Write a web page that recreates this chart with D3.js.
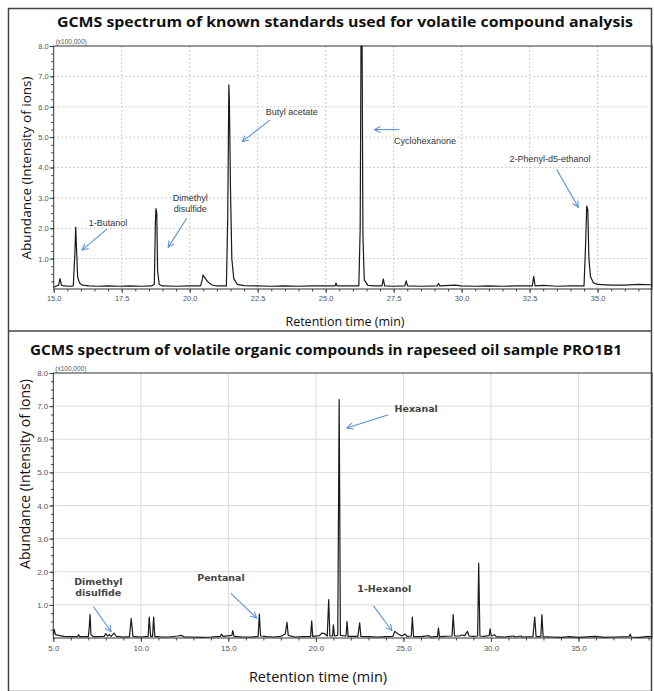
<!DOCTYPE html>
<html>
<head>
<meta charset="utf-8">
<script src="https://cdn.jsdelivr.net/npm/d3@7"></script>
<style>
  body { margin: 0; background: #fff; }
  svg { display: block; }
  .tick text { fill: #555; }
</style>
</head>
<body>
<script>
// chromatogram traces, abundance in units of 100,000 ions
let stdTime = [15.00,15.10,15.18,15.23,15.29,15.40,15.60,15.72,15.78,15.81,15.84,15.88,15.95,16.05,16.30,16.60,17.00,17.40,17.80,18.20,18.60,18.70,18.74,18.76,18.79,18.82,18.88,19.00,19.50,20.00,20.40,20.46,20.49,20.55,20.65,20.80,21.00,21.35,21.40,21.44,21.46,21.50,21.55,21.62,21.75,22.00,22.50,23.00,23.50,24.00,24.50,25.00,25.35,25.38,25.42,26.00,26.22,26.27,26.30,26.34,26.37,26.42,26.55,26.80,27.07,27.12,27.17,27.50,27.91,27.96,28.01,28.50,29.10,29.15,29.20,29.75,30.00,30.50,31.00,31.50,32.00,32.60,32.65,32.70,33.00,33.50,34.00,34.50,34.56,34.60,34.64,34.68,34.74,34.85,35.00,35.50,36.00,36.50,37.00];
let stdAbund = [0.06,0.10,0.12,0.34,0.12,0.10,0.09,0.10,1.20,2.04,1.30,0.40,0.20,0.13,0.10,0.09,0.10,0.09,0.10,0.09,0.10,0.15,2.20,2.65,2.50,0.60,0.15,0.10,0.09,0.10,0.10,0.30,0.46,0.38,0.25,0.14,0.10,0.10,2.40,6.72,6.20,3.30,1.00,0.35,0.15,0.11,0.10,0.09,0.10,0.09,0.10,0.10,0.10,0.20,0.10,0.10,0.10,2.00,8.00,8.00,1.80,0.30,0.12,0.10,0.10,0.33,0.10,0.09,0.10,0.27,0.10,0.09,0.10,0.18,0.10,0.13,0.10,0.09,0.10,0.09,0.10,0.10,0.42,0.10,0.12,0.09,0.10,0.10,1.50,2.73,2.60,1.00,0.40,0.20,0.15,0.13,0.13,0.15,0.14];

let oilTime = [5.00,5.05,5.12,5.30,5.60,6.00,6.40,6.45,6.50,7.00,7.05,7.10,7.15,7.30,7.90,8.00,8.10,8.20,8.30,8.47,8.60,9.00,9.35,9.45,9.55,10.00,10.42,10.48,10.56,10.67,10.73,10.80,11.20,11.60,12.10,12.30,12.50,13.00,13.50,14.00,14.55,14.60,14.70,15.20,15.25,15.32,15.80,16.30,16.70,16.77,16.84,17.20,17.60,18.00,18.25,18.35,18.42,18.80,19.30,19.70,19.76,19.82,20.20,20.35,20.50,20.65,20.73,20.80,20.95,21.00,21.06,21.25,21.33,21.40,21.72,21.78,21.84,22.40,22.50,22.57,23.00,23.50,24.00,24.40,24.50,24.70,24.90,25.10,25.20,25.45,25.51,25.58,26.00,26.45,26.55,26.95,27.00,27.06,27.78,27.84,27.92,28.20,28.35,28.50,28.66,28.75,29.00,29.24,29.30,29.37,29.60,29.90,29.95,30.02,30.20,30.30,30.80,31.30,31.40,31.70,31.80,32.40,32.50,32.58,32.85,32.91,32.98,33.50,34.00,34.50,35.00,35.95,36.50,37.00,37.90,37.95,38.02,38.50,38.97,39.20];
let oilAbund = [0.10,0.26,0.10,0.08,0.05,0.04,0.05,0.10,0.04,0.04,0.30,0.71,0.10,0.04,0.05,0.13,0.06,0.10,0.05,0.15,0.05,0.03,0.04,0.59,0.05,0.03,0.05,0.63,0.05,0.05,0.63,0.05,0.03,0.03,0.06,0.08,0.03,0.03,0.02,0.03,0.05,0.12,0.05,0.08,0.22,0.05,0.03,0.03,0.05,0.72,0.06,0.04,0.03,0.05,0.12,0.47,0.08,0.03,0.04,0.05,0.52,0.05,0.07,0.15,0.13,0.06,1.16,0.06,0.06,0.40,0.06,0.08,7.20,0.08,0.06,0.50,0.05,0.05,0.46,0.05,0.04,0.03,0.04,0.05,0.20,0.12,0.06,0.12,0.05,0.06,0.63,0.05,0.04,0.07,0.03,0.05,0.30,0.04,0.06,0.71,0.06,0.06,0.09,0.07,0.20,0.06,0.05,0.06,2.26,0.06,0.05,0.07,0.28,0.06,0.10,0.04,0.03,0.06,0.03,0.06,0.03,0.04,0.63,0.04,0.04,0.71,0.04,0.03,0.02,0.04,0.02,0.05,0.02,0.03,0.04,0.12,0.03,0.02,0.05,0.03];

// tick labels
let stdXTicks = [15, 17.5, 20, 22.5, 25, 27.5, 30, 32.5, 35];
let oilXTicks = [5, 10, 15, 20, 25, 30, 35];
let yTicks = [1, 2, 3, 4, 5, 6, 7, 8];

// peak annotations: label lines, label position and arrow (time, abundance)
let stdLabels = [["1-Butanol"], ["Dimethyl", "disulfide"], ["Butyl acetate"], ["Cyclohexanone"], ["2-Phenyl-d5-ethanol"]];
let stdLabelAt = [[17.0, 2.17], [20.02, 2.99], [23.75, 5.83], [28.65, 4.88], [33.25, 4.27]];
let stdArrows = [[16.96, 1.97, 16.04, 1.28], [19.89, 2.33, 19.21, 1.37], [22.95, 5.56, 21.93, 4.85], [27.71, 5.25, 26.79, 5.25], [33.49, 3.94, 34.29, 2.69]];

let oilLabels = [["Dimethyl", "disulfide"], ["Pentanal"], ["Hexanal"], ["1-Hexanol"]];
let oilLabelAt = [[7.57, 1.68], [14.58, 1.80], [25.73, 6.91], [23.91, 1.47]];
let oilArrows = [[7.29, 0.95, 8.30, 0.19], [15.14, 1.35, 16.62, 0.60], [24.14, 6.74, 21.77, 6.34], [23.29, 0.97, 24.34, 0.22]];

let svg = null;
let width = 654, height = 691;

appendSvg("body");
appendFrame();
drawPanel({
  title: "GCMS spectrum of known standards used for volatile compound analysis",
  titleX: 345, titleY: 23, titleLen: 576,
  left: 53.7, right: 652, top: 46, bottom: 289,
  xDomain: [15, 37], xTicks: stdXTicks, xMinorStep: 0.5,
  time: stdTime, abund: stdAbund,
  gridDash: "1.5,2.5", gridColor: "#bbb",
  yTitleX: 27, yTitleY: 168, yTitleSize: 13.5,
  xTitleX: 345, xTitleY: 323, xTitleSize: 12.5,
  tickSize: 7.5,
  labels: stdLabels, labelAt: stdLabelAt, arrows: stdArrows,
  labelFont: "9px 'Liberation Sans'", labelWeight: "normal", labelColor: "#333", lineGap: 11
});
drawPanel({
  title: "GCMS spectrum of volatile organic compounds in rapeseed oil sample PRO1B1",
  titleX: 326, titleY: 351, titleLen: 592,
  left: 53.3, right: 652, top: 373, bottom: 638,
  xDomain: [5, 39.2], xTicks: oilXTicks, xMinorStep: 1,
  time: oilTime, abund: oilAbund,
  gridDash: null, gridColor: "#dcdcdc",
  yTitleX: 26, yTitleY: 474, yTitleSize: 14,
  xTitleX: 318, xTitleY: 678, xTitleSize: 14.5,
  tickSize: 8,
  labels: oilLabels, labelAt: oilLabelAt, arrows: oilArrows,
  labelFont: "9.5px 'DejaVu Sans'", labelWeight: "bold", labelColor: "#444", lineGap: 11
});

function appendSvg(domElement) {
  svg = d3.select(domElement).append("svg")
    .attr("width", width)
    .attr("height", height);

  // open arrowhead used by the annotations
  svg.append("defs").append("marker")
    .attr("id", "head")
    .attr("viewBox", "0 0 10 10")
    .attr("refX", 9).attr("refY", 5)
    .attr("markerWidth", 7).attr("markerHeight", 7)
    .attr("orient", "auto")
    .append("path")
    .attr("d", "M1,1 L9,5 L1,9")
    .attr("fill", "none")
    .attr("stroke", "#5b8fd6")
    .attr("stroke-width", 1.3);
}

function appendFrame() {
  svg.append("rect")
    .attr("x", 8.5).attr("y", 8.5)
    .attr("width", 643).attr("height", 683)
    .attr("fill", "none")
    .attr("stroke", "#444")
    .attr("stroke-width", 1.5);
  svg.append("line")
    .attr("x1", 8).attr("x2", 652)
    .attr("y1", 331).attr("y2", 331)
    .attr("stroke", "#444")
    .attr("stroke-width", 1.5);
}

function drawPanel(p) {
  let x = d3.scaleLinear().domain(p.xDomain).range([p.left, p.right]);
  let y = d3.scaleLinear().domain([0, 8]).range([p.bottom, p.top]);
  let g = svg.append("g");

  // title
  g.append("text")
    .attr("x", p.titleX).attr("y", p.titleY)
    .attr("text-anchor", "middle")
    .attr("dominant-baseline", "middle")
    .attr("textLength", p.titleLen)
    .attr("lengthAdjust", "spacingAndGlyphs")
    .style("font", "bold 15px 'Open Sans'")
    .style("fill", "#111")
    .text(p.title);

  // grid
  let grid = g.append("g")
    .attr("stroke", p.gridColor)
    .attr("stroke-width", 1)
    .attr("stroke-dasharray", p.gridDash);
  grid.selectAll("line.h")
    .data(yTicks.slice(0, -1))
    .enter().append("line")
    .attr("x1", p.left).attr("x2", p.right)
    .attr("y1", d => y(d)).attr("y2", d => y(d));
  grid.selectAll("line.v")
    .data(p.xTicks.slice(1))
    .enter().append("line")
    .attr("x1", d => x(d)).attr("x2", d => x(d))
    .attr("y1", p.top).attr("y2", p.bottom);

  // minor ticks
  let minorX = d3.range(p.xDomain[0], p.xDomain[1], p.xMinorStep);
  g.append("g")
    .attr("transform", `translate(0, ${p.bottom})`)
    .call(d3.axisBottom(x).tickValues(minorX).tickSize(2.5).tickFormat(""))
    .call(a => a.select(".domain").remove())
    .selectAll("line").attr("stroke", "#444");
  g.append("g")
    .attr("transform", `translate(${p.left}, 0)`)
    .call(d3.axisLeft(y).tickValues(d3.range(0.25, 8, 0.25)).tickSize(2.5).tickFormat(""))
    .call(a => a.select(".domain").remove())
    .selectAll("line").attr("stroke", "#444");

  // major axes
  let xa = g.append("g")
    .attr("transform", `translate(0, ${p.bottom})`)
    .call(d3.axisBottom(x).tickValues(p.xTicks).tickSize(4).tickPadding(3).tickFormat(d3.format(".1f")));
  xa.select(".domain").remove();
  xa.selectAll("text").style("font", `${p.tickSize}px 'Liberation Sans'`);
  xa.selectAll("line").attr("stroke", "#444");

  let ya = g.append("g")
    .attr("transform", `translate(${p.left}, 0)`)
    .call(d3.axisLeft(y).tickValues(yTicks).tickSize(4).tickPadding(1).tickFormat(d3.format(".1f")));
  ya.select(".domain").remove();
  ya.selectAll("text").style("font", `${p.tickSize}px 'Liberation Sans'`);
  ya.selectAll("line").attr("stroke", "#444");

  g.append("text")
    .attr("x", p.left + 2).attr("y", p.top - 2)
    .style("font", "6.5px 'Liberation Sans'")
    .style("fill", "#555")
    .text("(x100,000)");

  // frame
  g.append("rect")
    .attr("x", p.left).attr("y", p.top)
    .attr("width", p.right - p.left).attr("height", p.bottom - p.top)
    .attr("fill", "none")
    .attr("stroke", "#333")
    .attr("stroke-width", 1);

  // trace
  let line = d3.line()
    .x((d, i) => x(p.time[i]))
    .y((d, i) => y(p.abund[i]));
  g.append("path")
    .datum(p.abund)
    .attr("d", line)
    .attr("fill", "none")
    .attr("stroke", "#1a1a1a")
    .attr("stroke-width", 1.2)
    .attr("stroke-linejoin", "round");

  // axis titles
  g.append("text")
    .attr("transform", `translate(${p.yTitleX}, ${p.yTitleY}) rotate(-90)`)
    .attr("text-anchor", "middle")
    .attr("dominant-baseline", "middle")
    .style("font", `${p.yTitleSize}px 'Open Sans'`)
    .style("fill", "#111")
    .text("Abundance (Intensity of ions)");
  g.append("text")
    .attr("x", p.xTitleX).attr("y", p.xTitleY)
    .attr("text-anchor", "middle")
    .attr("dominant-baseline", "middle")
    .style("font", `${p.xTitleSize}px 'Open Sans'`)
    .style("fill", "#111")
    .text("Retention time (min)");

  // annotations
  g.selectAll("line.arrow")
    .data(p.arrows)
    .enter().append("line")
    .attr("x1", d => x(d[0])).attr("y1", d => y(d[1]))
    .attr("x2", d => x(d[2])).attr("y2", d => y(d[3]))
    .attr("stroke", "#5b8fd6")
    .attr("stroke-width", 1.1)
    .attr("marker-end", "url(#head)");

  p.labels.forEach((lines, i) => {
    let t = g.append("text")
      .attr("text-anchor", "middle")
      .style("font", p.labelFont)
      .style("font-weight", p.labelWeight)
      .style("fill", p.labelColor);
    lines.forEach((s, j) => {
      t.append("tspan")
        .attr("x", x(p.labelAt[i][0]))
        .attr("y", y(p.labelAt[i][1]) + 3 + j * p.lineGap)
        .text(s);
    });
  });
}
</script>
</body>
</html>
